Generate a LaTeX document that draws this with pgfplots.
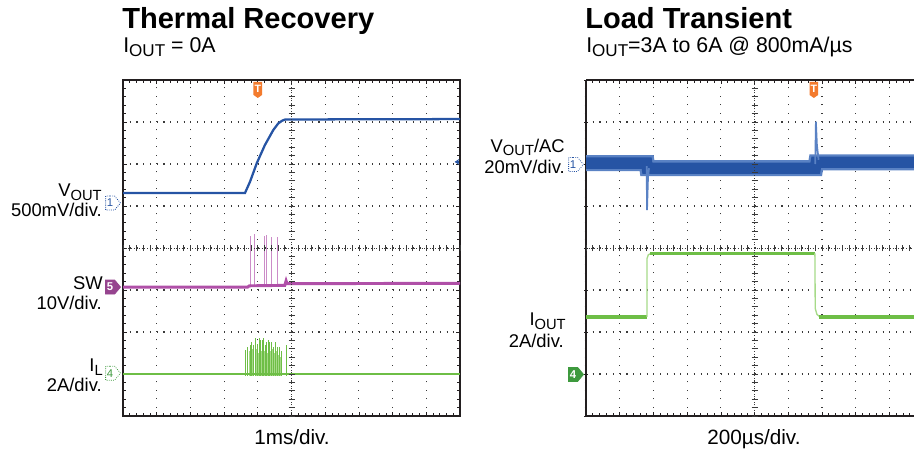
\documentclass[border=0pt]{standalone}
\usepackage{fontspec}
\setmainfont{Liberation Sans}
\usepackage{graphicx}
\usepackage{pgfplots}
\pgfplotsset{compat=1.18}
\usetikzlibrary{shapes.symbols,arrows.meta}

\definecolor{vblue}{HTML}{2654A4}
\definecolor{vblueL}{HTML}{5A82C4}
\definecolor{swpurple}{HTML}{B050A8}
\definecolor{swpurpleL}{HTML}{CC8CC8}
\definecolor{igreen}{HTML}{6EBE46}
\definecolor{igreenL}{HTML}{A6DA88}
\definecolor{igreenD}{HTML}{3E9A3E}
\definecolor{trig}{HTML}{F37B2E}
\definecolor{frame}{HTML}{231F20}
\definecolor{dots}{HTML}{3A3A3A}

\newcommand{\sub}[1]{\raisebox{-0.18em}{\scalebox{0.8}{#1}}}

\pgfplotsset{
  scopeax/.style={
    scale only axis, height=252pt,
    xmin=0, ymin=0, ymax=8,
    xtick distance=1, ytick distance=1,
    minor x tick num=4, minor y tick num=4,
    xticklabels={}, yticklabels={},
    tick align=inside,
    major tick length=3pt, minor tick length=2.2pt,
    tick style={color=frame, line width=0.5pt},
    grid=major,
    major x grid style={color=dots, line width=0.8pt, dash pattern=on 0.8pt off 5.5pt},
    major y grid style={color=dots, line width=0.8pt, dash pattern=on 0.8pt off 4.255pt},
    axis line style={color=frame, line width=2pt},
    clip mode=individual,
  },
  centreax/.style={
    scale only axis, height=252pt,
    xmin=-5, ymin=-4, ymax=4,
    axis lines=center,
    axis line style={-, color=dots, line width=0.7pt, dash pattern=on 0.7pt off 1.3pt},
    xtick distance=0.2, ytick distance=0.2,
    xticklabels={}, yticklabels={},
    tick align=center, major tick length=4.5pt,
    tick style={color=dots, line width=0.6pt},
  },
}
\tikzset{
  chmark/.style={signal, signal to=east, signal pointer angle=100, draw=#1, fill=white,
    text=#1, font=\fontsize{8.5}{8.5}\selectfont, inner sep=1pt, minimum height=10.5pt, minimum width=8.5pt,
    line width=0.6pt, densely dotted, anchor=east, xshift=-1.5pt},
  chfill/.style={signal, signal to=east, signal pointer angle=100, draw=#1, fill=#1,
    text=white, font=\fontsize{8.5}{8.5}\selectfont\bfseries, inner sep=1pt, minimum height=10.5pt, minimum width=8.5pt,
    line width=0.6pt, anchor=east, xshift=-1.5pt},
  trigmark/.style={signal, signal to=south, signal pointer angle=110, fill=trig, draw=none,
    text=white, font=\fontsize{8}{8}\selectfont\bfseries, inner sep=0.7pt,
    minimum width=6.5pt, minimum height=12pt, anchor=north, yshift=-1.2pt},
}

\begin{document}
\begin{tikzpicture}[x=0.75pt,y=0.75pt]
\path[use as bounding box] (0,0) rectangle (914,453);

% ---------- Thermal Recovery ----------
\begin{axis}[scopeax, at={(92.25pt,27.75pt)}, anchor=south west, width=252.75pt, xmax=10]
  % VOUT
  \addplot[vblue, line width=1.7pt] coordinates {
    (0,5.31)(3.62,5.31)(3.77,5.58)(3.97,6.02)(4.21,6.45)(4.46,6.81)(4.61,6.97)(4.72,7.03)(4.81,7.06)(10,7.07)};
  % SW
  \addplot[swpurpleL, line width=0.8pt, unbounded coords=jump] coordinates {
    (3.77,3.07)(3.77,4.29)(3.77,nan)
    (3.90,3.07)(3.90,4.33)(3.90,nan)
    (4.21,3.08)(4.21,4.29)(4.21,nan)
    (4.26,3.08)(4.26,4.30)(4.26,nan)
    (4.41,3.08)(4.41,4.27)(4.41,nan)
    (4.59,3.08)(4.59,4.27)};
  \addplot[swpurple, line width=2.2pt] coordinates {
    (0,3.07)(3.70,3.07)(3.75,3.10)(4.80,3.11)(4.84,3.22)(4.87,3.15)(10,3.16)};
  % IL
  \addplot[igreenL, line width=0.7pt, unbounded coords=jump] coordinates {
    (3.68,0.96)(3.68,1.45)(3.68,nan)(3.74,0.96)(3.74,1.55)(3.74,nan)
    (3.80,0.96)(3.80,1.50)(3.80,nan)(3.85,0.96)(3.85,1.60)(3.85,nan)
    (3.92,0.96)(3.92,1.55)(3.92,nan)(3.97,0.96)(3.97,1.60)(3.97,nan)
    (4.02,0.96)(4.02,1.50)(4.02,nan)(4.07,0.96)(4.07,1.65)(4.07,nan)
    (4.11,0.96)(4.11,1.55)(4.11,nan)(4.16,0.96)(4.16,1.60)(4.16,nan)
    (4.20,0.96)(4.20,1.55)(4.20,nan)(4.24,0.96)(4.24,1.60)(4.24,nan)
    (4.29,0.96)(4.29,1.50)(4.29,nan)(4.34,0.96)(4.34,1.65)(4.34,nan)
    (4.39,0.96)(4.39,1.55)(4.39,nan)(4.44,0.96)(4.44,1.60)(4.44,nan)
    (4.49,0.96)(4.49,1.50)(4.49,nan)(4.54,0.96)(4.54,1.55)(4.54,nan)
    (4.61,0.96)(4.61,1.45)(4.61,nan)(4.68,0.96)(4.68,1.40)};
  \addplot[igreen, line width=0.7pt, unbounded coords=jump] coordinates {
    (3.62,0.96)(3.62,1.57)(3.62,nan)(3.70,0.96)(3.70,1.65)(3.70,nan)
    (3.77,0.96)(3.77,1.69)(3.77,nan)(3.82,0.96)(3.82,1.75)(3.82,nan)
    (3.87,0.96)(3.87,1.69)(3.87,nan)(3.94,0.96)(3.94,1.85)(3.94,nan)
    (3.99,0.96)(3.99,1.72)(3.99,nan)(4.04,0.96)(4.04,1.85)(4.04,nan)
    (4.09,0.96)(4.09,1.80)(4.09,nan)(4.13,0.96)(4.13,1.80)(4.13,nan)
    (4.18,0.96)(4.18,1.85)(4.18,nan)(4.22,0.96)(4.22,1.70)(4.22,nan)
    (4.26,0.96)(4.26,1.77)(4.26,nan)(4.31,0.96)(4.31,1.80)(4.31,nan)
    (4.36,0.96)(4.36,1.77)(4.36,nan)(4.41,0.96)(4.41,1.75)(4.41,nan)
    (4.46,0.96)(4.46,1.65)(4.46,nan)(4.51,0.96)(4.51,1.77)(4.51,nan)
    (4.58,0.96)(4.58,1.65)(4.58,nan)(4.64,0.96)(4.64,1.65)(4.64,nan)
    (4.71,0.96)(4.71,1.55)(4.71,nan)(4.86,0.96)(4.86,1.69)};
  \addplot[igreen, line width=2.2pt] coordinates {(0,1.0)(10,1.0)};
  % markers
  \node[trigmark] at (axis cs:4,8) {T};
  \node[chmark=vblue] at (axis cs:0,5.07) {1};
  \node[chfill=swpurple!85!black] at (axis cs:0,3.07) {5};
  \node[chmark=igreenD] at (axis cs:0,1.02) {4};
  \draw[vblue, line width=1pt, -{Stealth[length=3.5pt,width=4.5pt]}] (axis cs:9.97,6.05) -- (axis cs:9.84,6.05);
\end{axis}
\begin{axis}[centreax, at={(92.25pt,27.75pt)}, anchor=south west, width=252.75pt, xmax=5]
\end{axis}

% ---------- Load Transient ----------
\begin{axis}[scopeax, at={(439.5pt,27.75pt)}, anchor=south west, width=246pt, xmax=9.73,
  axis x line=box, axis y line=left, y axis line style={-}]
  % VOUT/AC
  \addplot[vblueL, line width=12pt] coordinates {
    (0,6.02)(1.80,6.02)(1.82,5.90)(6.80,5.90)(6.83,6.04)(9.73,6.04)};
  \addplot[vblue, line width=8.5pt] coordinates {
    (0,6.02)(1.80,6.02)(1.82,5.90)(6.80,5.90)(6.83,6.04)(9.73,6.04)};
  \addplot[vblueL, line width=1.3pt] coordinates {
    (1.80,5.95)(1.81,4.90)(1.84,5.70)(1.87,5.90)};
  \addplot[vblueL, line width=1.3pt] coordinates {
    (6.80,6.00)(6.82,7.01)(6.85,6.45)(6.90,6.10)};
  % IOUT
  \addplot[igreen, line width=2.6pt] coordinates {(0,2.36)(1.80,2.36)};
  \addplot[igreenL, line width=1pt] coordinates {(1.81,2.36)(1.81,3.75)(1.85,3.84)(1.93,3.87)};
  \addplot[igreen, line width=2.6pt] coordinates {(1.90,3.87)(6.79,3.87)};
  \addplot[igreenL, line width=1pt] coordinates {(6.79,3.87)(6.80,2.56)(6.85,2.42)(6.94,2.36)};
  \addplot[igreen, line width=2.6pt] coordinates {(6.92,2.36)(9.73,2.36)};
  % markers
  \node[trigmark] at (axis cs:6.76,8) {T};
  \node[chmark=vblue] at (axis cs:0,5.99) {1};
  \node[chfill=igreenD] at (axis cs:0,0.99) {4};
\end{axis}
\begin{axis}[centreax, at={(439.5pt,27.75pt)}, anchor=south west, width=246pt, xmax=4.73]
\end{axis}

% ---------- texts ----------
\begin{scope}[every node/.style={inner sep=0pt}]
\node[anchor=base west, font=\fontsize{21.8}{24}\selectfont\bfseries] at (122,424.7) {Thermal Recovery};
\node[anchor=base west, font=\fontsize{16}{18}\selectfont] at (123,400) {I\sub{OUT} = 0A};
\node[anchor=base west, font=\fontsize{21.8}{24}\selectfont\bfseries] at (585,424.7) {Load Transient};
\node[anchor=base west, font=\fontsize{16}{18}\selectfont] at (586,400) {I\sub{OUT}=3A to 6A @ 800mA/µs};

\begin{scope}[every node/.append style={anchor=base east, font=\fontsize{13.8}{15}\selectfont}]
\node at (102,256) {V\sub{OUT}};
\node at (102,236.3) {500mV/div.};
\node at (103,163) {SW};
\node at (102,143) {10V/div.};
\node at (103,81) {I\sub{L}};
\node at (102,61.3) {2A/div.};
\node at (565,300.8) {V\sub{OUT}/AC};
\node at (565,279.7) {20mV/div.};
\node at (566,127) {I\sub{OUT}};
\node at (564,105) {2A/div.};
\end{scope}
\node[anchor=base, font=\fontsize{15.5}{17}\selectfont] at (292,8.7) {1ms/div.};
\node[anchor=base, font=\fontsize{15.5}{17}\selectfont] at (754,8.7) {200µs/div.};
\end{scope}
\end{tikzpicture}
\end{document}
